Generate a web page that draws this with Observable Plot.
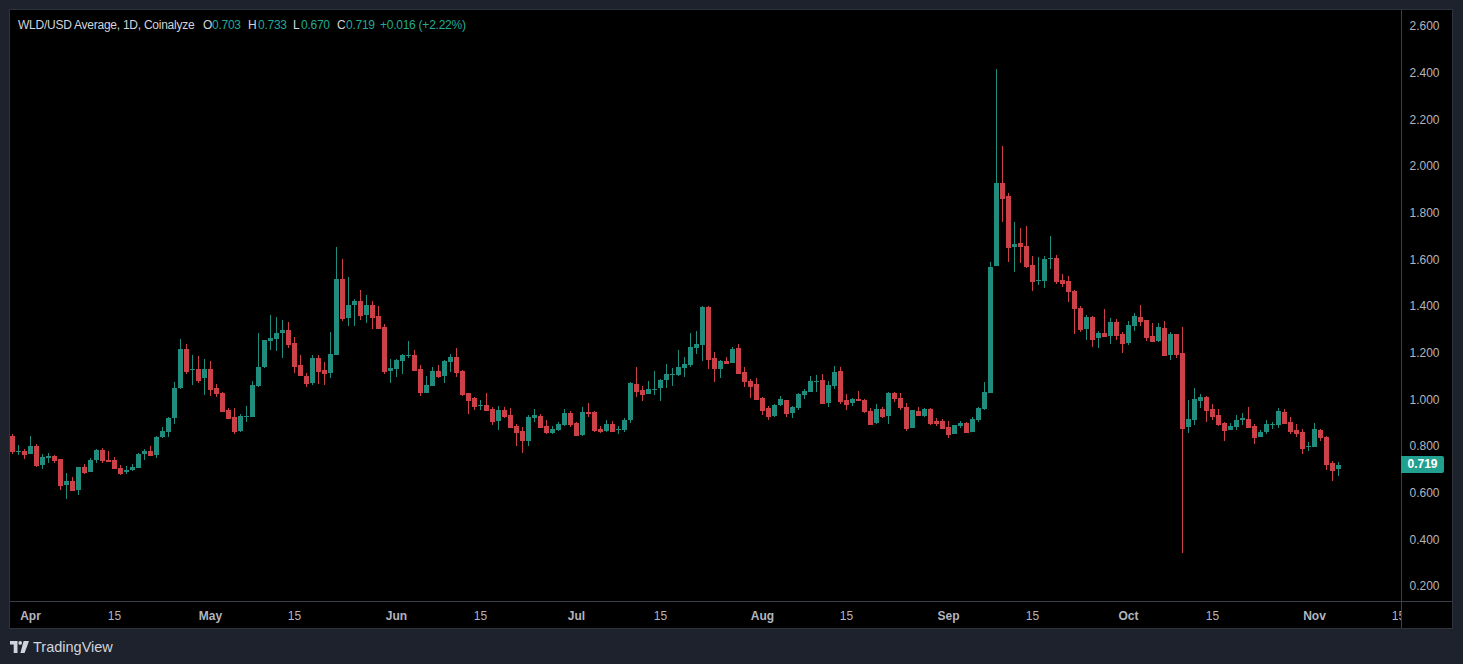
<!DOCTYPE html>
<html><head><meta charset="utf-8">
<script src="https://cdn.jsdelivr.net/npm/d3@7"></script>
<script src="https://cdn.jsdelivr.net/npm/@observablehq/plot@0.6"></script>
<style>
html,body{margin:0;padding:0;background:#1e222d;width:1463px;height:664px;overflow:hidden;font-family:"Liberation Sans",Arial,sans-serif;}
#panel{position:absolute;left:9px;top:9px;width:1442px;height:618px;border:1px solid #2f333e;background:#000;overflow:hidden}
#chart{position:absolute;left:0;top:0}
#corner{position:absolute;left:1392px;top:592px;width:50px;height:26px;background:#000}
#vsep{position:absolute;left:1391px;top:0;width:1px;height:618px;background:#3a3e4a}
#hsep{position:absolute;left:0;top:591px;width:1442px;height:1px;background:#3a3e4a}
#title{position:absolute;left:0;top:8px;height:14px;width:600px;font-size:12px;line-height:14px;color:#d1d4dc;white-space:nowrap;letter-spacing:-0.25px}
#title span{position:absolute;top:0}
#title .v{color:#22ab94}
#lastlabel{position:absolute;left:1391px;width:43px;height:17px;background:#22a08f;color:#fff;font-weight:bold;font-size:12px;line-height:17px;text-align:center;border-radius:0 2px 2px 0}
#logo{position:absolute;left:10px;top:638px;height:18px;display:flex;align-items:center;color:#d1d4dc;font-size:14.5px}
#logo svg{margin-right:4px}
</style></head><body>
<div id="panel">
  <div id="chart"></div>
  <div id="corner"></div>
  <div id="vsep"></div><div id="hsep"></div>
  <div id="title"></div>
  <div id="lastlabel"></div>
</div>
<div id="logo"><svg width="19" height="12" viewBox="0 0 19 12"><path d="M0 0h7.5v12h-3.8V3.6H0z" fill="#d1d4dc"/><circle cx="10.2" cy="1.9" r="1.9" fill="#d1d4dc"/><path d="M13.6 0H19L14.6 12H10.4z" fill="#d1d4dc"/></svg>TradingView</div>
<script>
// ---- data (WLD/USD daily, Coinalyze average) ----
const firstDay = "2025-03-29";
const opens = [0.844,0.774,0.780,0.767,0.801,0.720,0.750,0.758,0.745,0.631,0.651,0.613,0.711,0.690,0.741,0.784,0.741,0.741,0.707,0.690,0.698,0.707,0.767,0.780,0.763,0.837,0.861,0.920,1.047,1.217,
1.124,1.131,1.093,1.131,1.050,1.028,0.953,0.924,0.865,0.926,0.926,1.058,1.140,1.251,1.260,1.283,1.298,1.243,1.148,1.101,1.071,1.178,1.127,1.114,1.191,1.517,1.350,1.405,1.423,1.363,
1.405,1.358,1.311,1.123,1.131,1.165,1.187,1.191,1.131,1.028,1.058,1.123,1.101,1.161,1.183,1.123,1.028,1.007,0.973,0.977,0.960,0.908,0.955,0.934,0.887,0.865,0.823,0.921,0.930,0.887,
0.857,0.870,0.891,0.943,0.900,0.848,0.947,0.947,0.874,0.865,0.895,0.870,0.870,0.913,1.067,1.041,1.024,1.041,1.050,1.084,1.106,1.106,1.135,1.148,1.221,1.234,1.397,1.178,1.131,1.165,
1.157,1.221,1.118,1.080,1.067,1.007,0.964,0.930,0.977,0.998,0.943,0.964,1.020,1.033,1.075,1.084,0.985,1.058,1.123,0.998,0.985,1.003,0.998,0.951,0.900,0.960,0.930,1.028,1.007,0.968,
0.878,0.951,0.930,0.960,0.908,0.908,0.883,0.853,0.887,0.900,0.861,0.913,0.960,1.028,1.573,1.928,1.873,1.654,1.671,1.658,1.577,1.508,1.508,1.603,1.607,1.513,1.508,1.465,1.393,1.303,
1.354,1.264,1.285,1.273,1.333,1.281,1.243,1.315,1.354,1.341,1.273,1.251,1.307,1.191,1.281,1.200,0.883,0.913,0.994,1.011,0.960,0.934,0.900,0.870,0.883,0.913,0.917,0.887,0.840,0.861,
0.891,0.891,0.947,0.904,0.870,0.861,0.797,0.797,0.870,0.840,0.728,0.703];
const highs = [0.850,0.805,0.788,0.844,0.810,0.766,0.771,0.760,0.746,0.684,0.668,0.712,0.724,0.750,0.788,0.793,0.780,0.754,0.720,0.715,0.724,0.771,0.788,0.801,0.844,0.883,0.925,1.075,1.260,1.238,
1.191,1.187,1.174,1.165,1.067,1.030,0.961,0.961,0.938,0.973,1.080,1.285,1.256,1.363,1.354,1.341,1.333,1.268,1.191,1.114,1.191,1.191,1.161,1.290,1.654,1.603,1.525,1.431,1.470,1.448,
1.423,1.400,1.324,1.174,1.174,1.195,1.251,1.213,1.148,1.101,1.140,1.148,1.170,1.195,1.221,1.124,1.029,1.008,0.998,1.028,0.968,0.973,0.968,0.964,0.895,0.883,0.934,0.960,0.938,0.913,
0.887,0.904,0.960,0.951,0.904,0.968,0.985,0.951,0.887,0.913,0.908,0.887,0.921,1.075,1.140,1.058,1.080,1.123,1.088,1.153,1.135,1.213,1.183,1.285,1.294,1.401,1.401,1.204,1.170,1.183,
1.225,1.238,1.140,1.088,1.093,1.008,0.973,0.981,1.015,0.999,0.973,1.028,1.045,1.101,1.105,1.110,1.080,1.144,1.140,1.024,1.007,1.037,1.003,0.964,0.981,0.968,1.033,1.030,1.028,0.985,
0.955,0.968,0.964,0.964,0.921,0.917,0.908,0.891,0.908,0.904,0.926,0.968,1.075,1.590,2.417,2.087,1.885,1.761,1.735,1.744,1.615,1.611,1.615,1.701,1.620,1.538,1.530,1.470,1.401,1.363,
1.358,1.294,1.388,1.350,1.345,1.290,1.337,1.371,1.405,1.342,1.328,1.328,1.337,1.290,1.282,1.311,0.998,1.050,1.024,1.015,0.981,0.960,0.904,0.900,0.934,0.943,0.968,0.895,0.870,0.913,
0.904,0.964,0.960,0.925,0.895,0.874,0.818,0.900,0.874,0.844,0.737,0.733];
const lows = [0.767,0.763,0.745,0.766,0.712,0.703,0.728,0.728,0.613,0.574,0.612,0.591,0.678,0.689,0.728,0.728,0.733,0.706,0.677,0.681,0.694,0.706,0.741,0.763,0.750,0.836,0.837,0.895,1.046,1.110,
1.063,1.071,1.020,1.016,1.012,0.950,0.917,0.853,0.861,0.904,0.925,1.054,1.135,1.213,1.208,1.178,1.221,1.114,1.101,1.054,1.063,1.067,1.063,1.093,1.191,1.337,1.315,1.315,1.341,1.328,
1.303,1.306,1.110,1.071,1.097,1.110,1.178,1.127,1.015,1.028,1.058,1.093,1.071,1.118,1.097,1.015,0.938,0.955,0.955,0.955,0.891,0.870,0.921,0.879,0.801,0.771,0.801,0.904,0.878,0.853,
0.853,0.865,0.887,0.883,0.844,0.844,0.925,0.861,0.857,0.861,0.861,0.853,0.861,0.900,1.011,0.994,1.024,1.020,0.994,1.050,1.058,1.101,1.097,1.140,1.195,1.165,1.131,1.075,1.093,1.153,
1.157,1.110,1.054,1.007,0.998,0.934,0.913,0.926,0.973,0.926,0.921,0.955,1.003,1.033,1.033,0.981,0.968,1.045,0.981,0.955,0.973,0.994,0.943,0.895,0.895,0.921,0.895,0.990,0.955,0.865,
0.877,0.930,0.926,0.891,0.887,0.877,0.835,0.852,0.878,0.860,0.860,0.904,0.955,1.028,1.573,1.761,1.590,1.547,1.585,1.564,1.465,1.491,1.478,1.560,1.495,1.483,1.418,1.281,1.290,1.255,
1.225,1.221,1.268,1.238,1.255,1.200,1.234,1.294,1.315,1.251,1.250,1.247,1.187,1.170,1.178,0.343,0.857,0.891,0.964,0.904,0.913,0.887,0.823,0.869,0.869,0.891,0.878,0.810,0.839,0.853,
0.874,0.878,0.899,0.853,0.840,0.767,0.780,0.797,0.822,0.698,0.649,0.670];
const closes = [0.777,0.777,0.767,0.801,0.720,0.754,0.758,0.741,0.631,0.651,0.613,0.711,0.690,0.741,0.784,0.741,0.737,0.707,0.685,0.698,0.711,0.767,0.780,0.763,0.840,0.865,0.921,1.050,1.217,1.123,
1.131,1.084,1.131,1.045,1.028,0.951,0.921,0.865,0.930,0.930,1.063,1.140,1.255,1.264,1.285,1.298,1.238,1.144,1.105,1.071,1.178,1.123,1.114,1.195,1.517,1.350,1.405,1.423,1.363,1.405,
1.354,1.307,1.123,1.135,1.170,1.191,1.191,1.127,1.033,1.063,1.123,1.101,1.165,1.183,1.118,1.024,0.998,0.973,0.977,0.955,0.908,0.955,0.930,0.883,0.861,0.827,0.925,0.934,0.883,0.861,
0.874,0.895,0.943,0.895,0.848,0.947,0.943,0.870,0.865,0.895,0.865,0.874,0.913,1.071,1.037,1.024,1.045,1.045,1.084,1.110,1.110,1.140,1.153,1.225,1.238,1.397,1.174,1.135,1.165,1.157,
1.217,1.114,1.080,1.058,1.003,0.955,0.930,0.977,1.003,0.943,0.968,1.024,1.037,1.080,1.080,0.985,1.063,1.118,0.994,0.981,1.003,0.998,0.951,0.895,0.960,0.930,1.028,1.007,0.968,0.878,
0.955,0.934,0.960,0.900,0.900,0.878,0.853,0.891,0.900,0.861,0.917,0.964,1.033,1.568,1.928,1.864,1.654,1.667,1.658,1.573,1.508,1.513,1.603,1.607,1.508,1.500,1.465,1.393,1.303,1.354,
1.260,1.285,1.273,1.333,1.277,1.243,1.320,1.358,1.337,1.268,1.251,1.311,1.191,1.281,1.195,0.878,0.917,1.003,1.011,0.955,0.930,0.895,0.870,0.887,0.913,0.921,0.883,0.840,0.861,0.895,
0.895,0.951,0.900,0.865,0.857,0.793,0.801,0.874,0.840,0.724,0.698,0.719];
const priceTicks = [0.2,0.4,0.6,0.8,1.0,1.2,1.4,1.6,1.8,2.0,2.2,2.4,2.6];
const monthTickDates = ["2025-04-01","2025-05-01","2025-06-01","2025-07-01","2025-08-01","2025-09-01","2025-10-01","2025-11-01"];
const monthTickLabels = ["Apr","May","Jun","Jul","Aug","Sep","Oct","Nov"];
const midTickDates = ["2025-04-15","2025-05-15","2025-06-15","2025-07-15","2025-08-15","2025-09-15","2025-10-15","2025-11-15"];
const titleText = "WLD/USD Average, 1D, Coinalyze";
const change = "+0.016 (+2.22%)";

// ---- build ----
const UP = "#1f8c7d", DOWN = "#cc4148";
const day = 864e5;
const t0 = Date.parse(firstDay + "T00:00:00Z");
const candles = opens.map((o, i) => ({
  date: new Date(t0 + i * day), open: o, high: highs[i], low: lows[i], close: closes[i],
  col: closes[i] >= o ? UP : DOWN
}));
// 6 px per day, Apr 1 at x = 20 so candles land on whole pixels
const apr1 = Date.parse("2025-04-01T00:00:00Z");
const xDomain = [new Date(apr1 - 20 / 6 * day), new Date(apr1 + (1391 - 20) / 6 * day)];
const halfBody = 2.5 / 6 * day;
const monthTicks = monthTickDates.map(d => new Date(d + "T00:00:00Z"));
const midTicks = midTickDates.map(d => new Date(d + "T00:00:00Z"));
const mlabel = new Map(monthTicks.map((d, i) => [+d, monthTickLabels[i]]));

const chart = Plot.plot({
  width: 1442, height: 618,
  marginLeft: 0, marginRight: 51, marginTop: 0, marginBottom: 27,
  style: {background: "transparent", color: "#b2b5be", fontFamily: '"Liberation Sans", Arial, sans-serif', fontSize: "12px", overflow: "visible"},
  x: {type: "utc", domain: xDomain},
  y: {domain: [0.1357, 2.6686]},
  color: {type: "identity"},
  marks: [
    Plot.ruleX(candles, {x: "date", y1: "low", y2: "high", stroke: "col", strokeWidth: 1, clip: true, shapeRendering: "crispEdges"}),
    Plot.ruleX(candles, {x: "date", y1: "open", y2: "close", stroke: "col", strokeWidth: 5, clip: true, shapeRendering: "crispEdges"}),
    Plot.ruleY(candles, {y: "close", x1: d => new Date(+d.date - halfBody), x2: d => new Date(+d.date + halfBody), stroke: "col", strokeWidth: 1, clip: true, shapeRendering: "crispEdges"}),
    Plot.axisY({anchor: "right", ticks: priceTicks, tickSize: 0, tickPadding: 8, tickFormat: d3.format(".3f"), label: null, fill: "#b2b5be", fontSize: 12}),
    Plot.axisX({anchor: "bottom", ticks: monthTicks, tickSize: 0, tickPadding: 10, tickFormat: d => mlabel.get(+d), label: null, fill: "#b2b5be", fontWeight: "bold", fontSize: 12}),
    Plot.axisX({anchor: "bottom", ticks: midTicks, tickSize: 0, tickPadding: 10, tickFormat: d => String(d.getUTCDate()), label: null, fill: "#b2b5be", fontSize: 12})
  ]
});
document.getElementById("chart").appendChild(chart);

// last price label positioned with the plot's own y scale
const last = candles[candles.length - 1];
const lab = document.getElementById("lastlabel");
lab.textContent = d3.format(".3f")(last.close);
lab.style.top = (chart.scale("y").apply(last.close) - 8.5) + "px";

// legend/title line
const f = d3.format(".3f");
const title = document.getElementById("title");
const parts = [
  [8, titleText, ""],
  [193, "O", ""], [202, f(last.open), "v"],
  [238, "H", ""], [248, f(last.high), "v"],
  [283, "L", ""], [291, f(last.low), "v"],
  [327, "C", ""], [336, f(last.close), "v"],
  [370, change, "v"]
];
for (const [x, t, c] of parts) {
  const s = document.createElement("span");
  s.style.left = x + "px"; s.textContent = t; if (c) s.className = c;
  title.appendChild(s);
}
</script>
</body></html>
